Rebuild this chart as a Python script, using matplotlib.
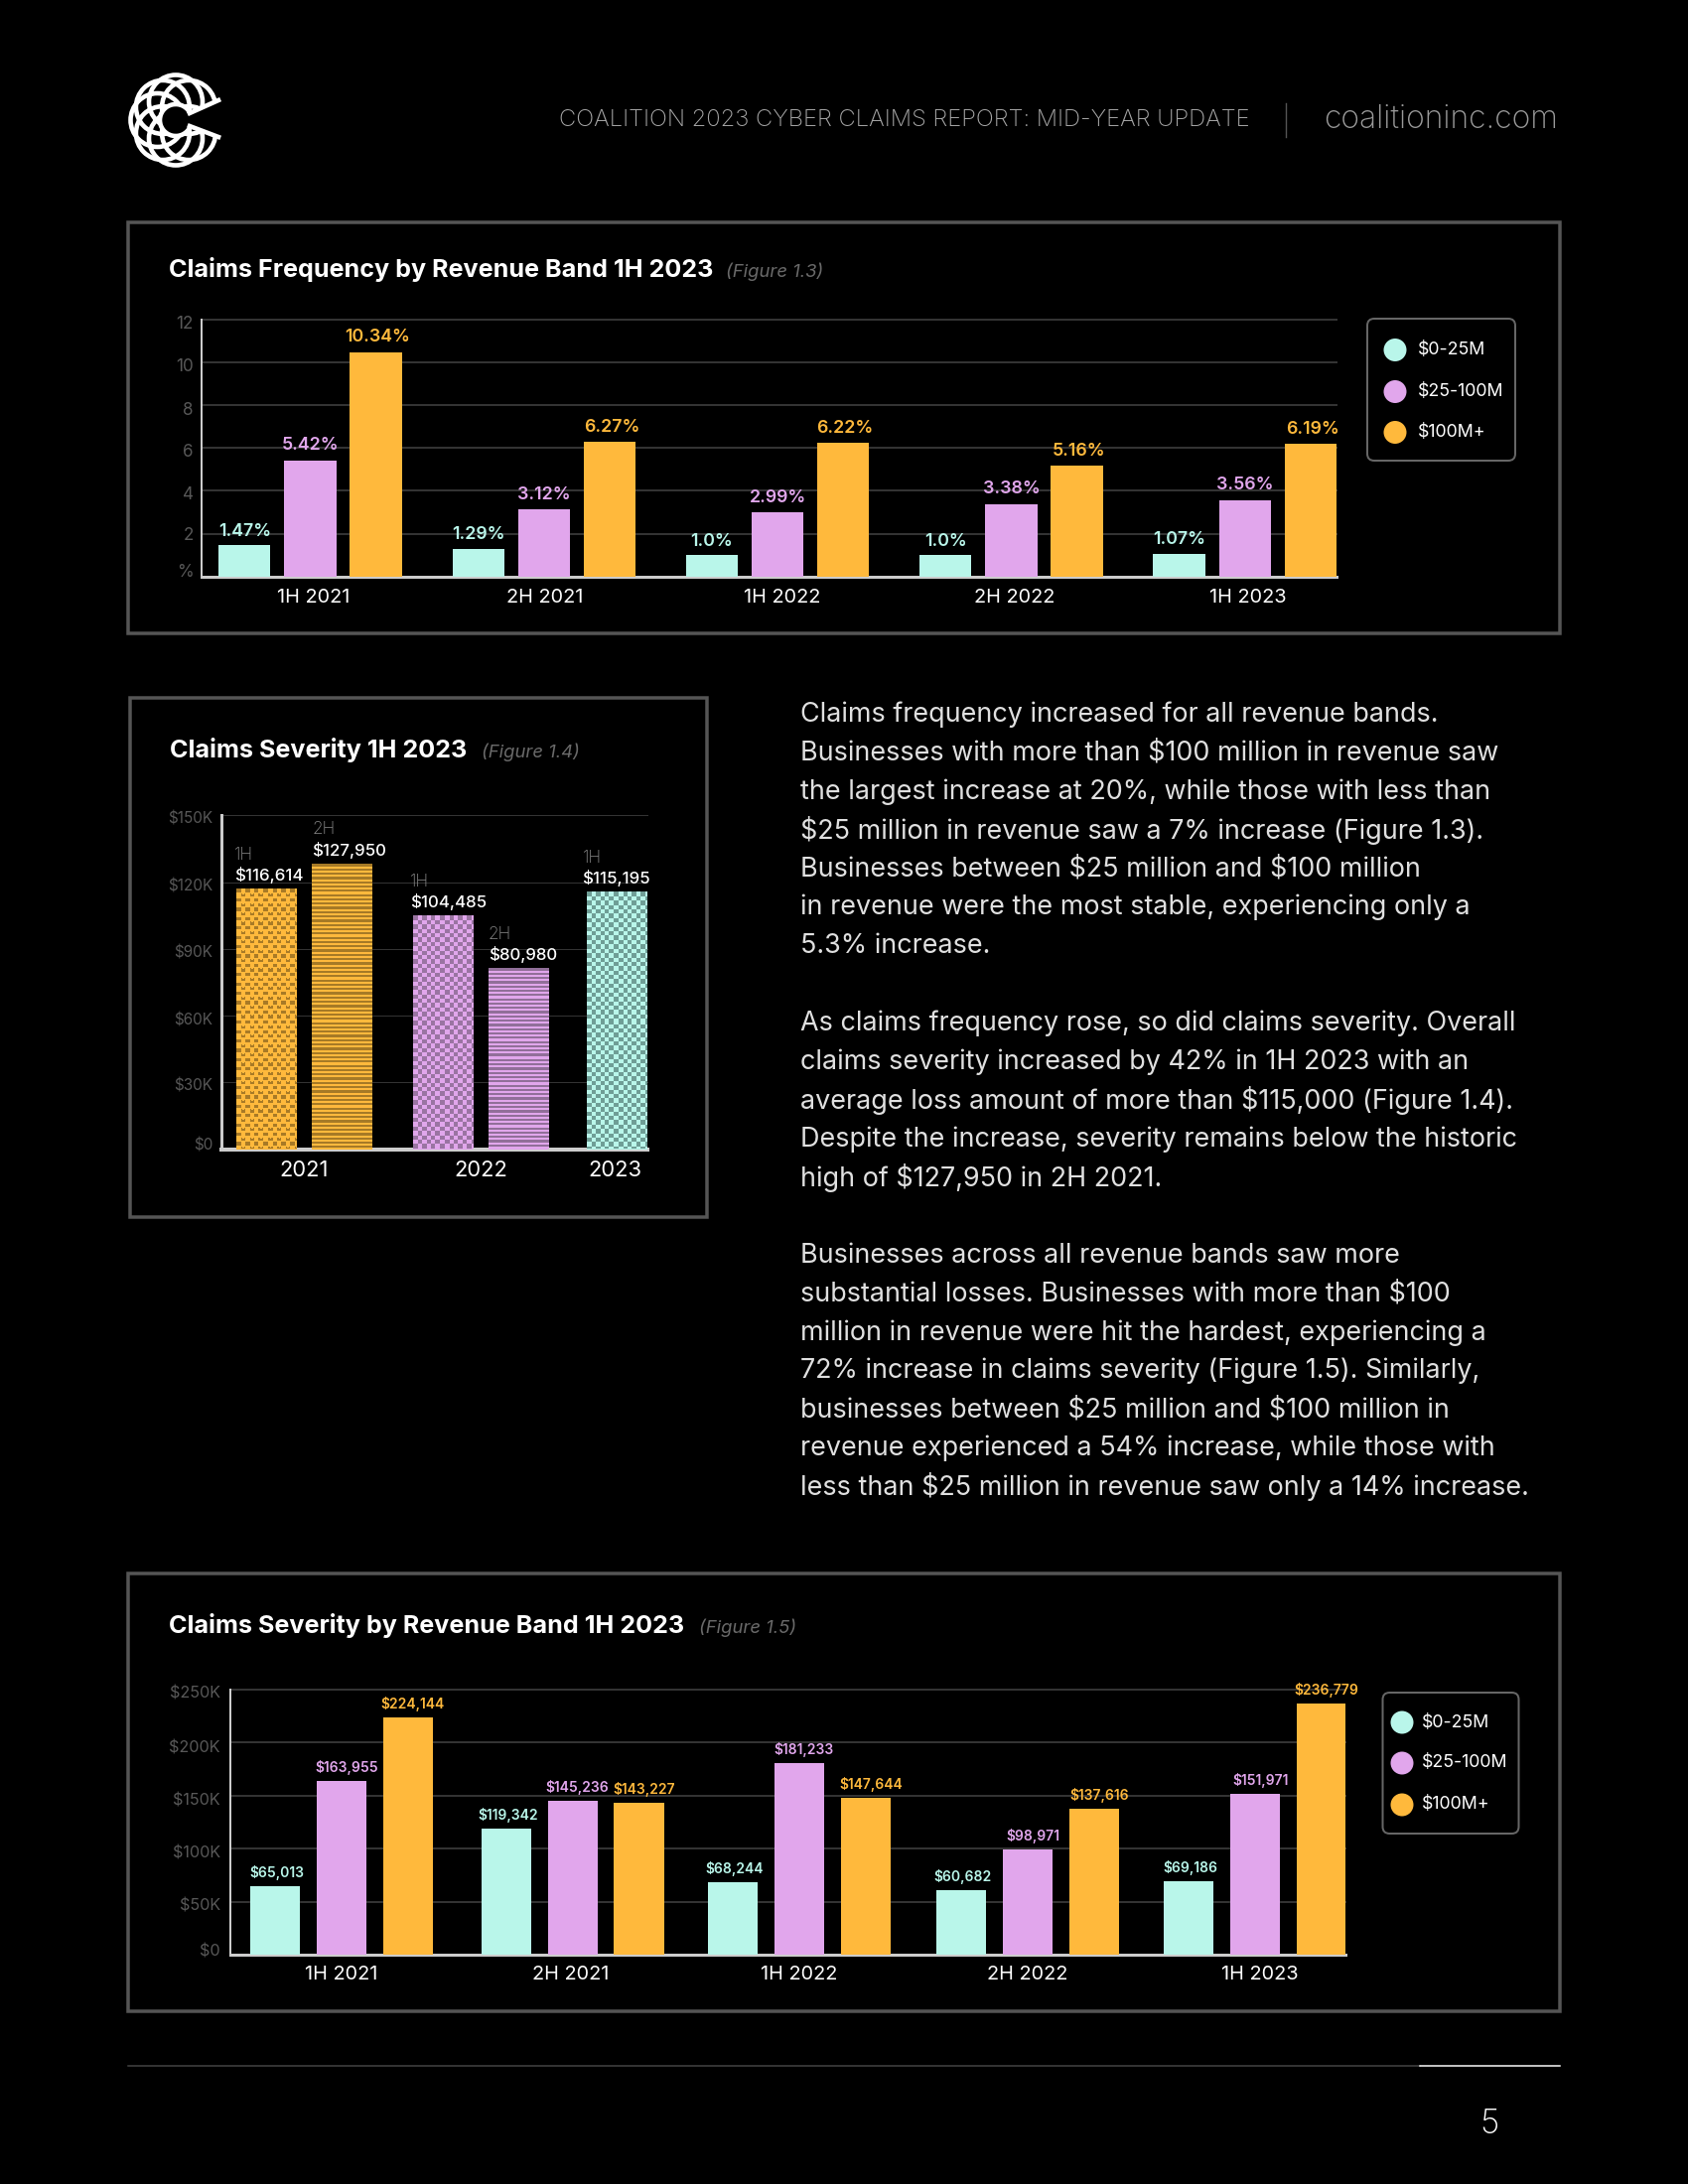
import numpy as np
import matplotlib
matplotlib.use('Agg')
import matplotlib.pyplot as plt
from matplotlib.patches import Rectangle, FancyBboxPatch, Circle, Polygon, Arc
from matplotlib.transforms import ScaledTranslation

# colours
TEAL = '#B9F6EA'
PURPLE = '#E1A6EC'
ORANGE = '#FFB93C'
FONT = 'Inter'

# fig 1.3 data
periods = ['1H 2021', '2H 2021', '1H 2022', '2H 2022', '1H 2023']
bands = ['$0-25M', '$25-100M', '$100M+']
freq_low = [1.47, 1.29, 1.0, 1.0, 1.07]
freq_mid = [5.42, 3.12, 2.99, 3.38, 3.56]
freq_high = [10.46, 6.27, 6.22, 5.16, 6.19]
freq_low_labels = ['1.47%', '1.29%', '1.0%', '1.0%', '1.07%']
freq_mid_labels = ['5.42%', '3.12%', '2.99%', '3.38%', '3.56%']
freq_high_labels = ['10.34%', '6.27%', '6.22%', '5.16%', '6.19%']
freq_ticks = [0, 2, 4, 6, 8, 10, 12]
freq_ticklabels = ['%', '2', '4', '6', '8', '10', '12']

# fig 1.4 data
sev_half = ['1H', '2H', '1H', '2H', '1H']
sev_values = [116614, 127950, 104485, 80980, 115195]
sev_years = ['2021', '2022', '2023']
sev_ticks = [0, 30000, 60000, 90000, 120000, 150000]
sev_ticklabels = ['$0', '$30K', '$60K', '$90K', '$120K', '$150K']

# fig 1.5 data
band_low = [65013, 119342, 68244, 60682, 69186]
band_mid = [163955, 145236, 181233, 98971, 151971]
band_high = [224144, 143227, 147644, 137616, 236779]
band_ticks = [0, 50000, 100000, 150000, 200000, 250000]
band_ticklabels = ['$0', '$50K', '$100K', '$150K', '$200K', '$250K']

# body copy
para1 = ['Claims frequency increased for all revenue bands.',
         'Businesses with more than $100 million in revenue saw',
         'the largest increase at 20%, while those with less than',
         '$25 million in revenue saw a 7% increase (Figure 1.3).',
         'Businesses between $25 million and $100 million',
         'in revenue were the most stable, experiencing only a',
         '5.3% increase.']
para2 = ['As claims frequency rose, so did claims severity. Overall',
         'claims severity increased by 42% in 1H 2023 with an',
         'average loss amount of more than $115,000 (Figure 1.4).',
         'Despite the increase, severity remains below the historic',
         'high of $127,950 in 2H 2021.']
para3 = ['Businesses across all revenue bands saw more',
         'substantial losses. Businesses with more than $100',
         'million in revenue were hit the hardest, experiencing a',
         '72% increase in claims severity (Figure 1.5). Similarly,',
         'businesses between $25 million and $100 million in',
         'revenue experienced a 54% increase, while those with',
         'less than $25 million in revenue saw only a 14% increase.']

plt.rcParams['font.family'] = [FONT, 'DejaVu Sans']
PX = 0.72  # points per pixel at dpi 100

fig = plt.figure(figsize=(17, 22), dpi=100, facecolor='black')

# page layer in pixel coordinates
page = fig.add_axes([0, 0, 1, 1], zorder=0)
page.set_xlim(0, 1700)
page.set_ylim(2200, 0)
page.axis('off')


def add_chart(left, top, right, bottom):
    '''axes placed by pixel box of the plot area'''
    ax = fig.add_axes([left / 1700, 1 - bottom / 2200, (right - left) / 1700,
                       (bottom - top) / 2200], zorder=2)
    ax.set_facecolor('none')
    for side in ['top', 'right']:
        ax.spines[side].set_visible(False)
    return ax


def shift_labels(labels, dxs, dys):
    '''small pixel nudges, + is right and down'''
    for lab, dx, dy in zip(labels, dxs, dys):
        lab.set_transform(lab.get_transform() +
                          ScaledTranslation(dx * PX / 72, -dy * PX / 72, fig.dpi_scale_trans))


def style_axes(ax, ticks, ticklabels, nudges, size, axis_w, base_w, grid_w, pad):
    ax.set_yticks(ticks)
    ax.set_yticklabels(ticklabels, color='#585858', fontsize=size)
    ax.tick_params(axis='both', length=0)
    ax.tick_params(axis='y', pad=pad)
    ax.set_axisbelow(True)
    ax.yaxis.grid(True, color='#333333', lw=grid_w * PX)
    for line in ax.get_ygridlines():
        line.set_clip_on(False)
    ax.spines['left'].set_color('#cccccc')
    ax.spines['left'].set_linewidth(axis_w * PX)
    ax.spines['bottom'].set_color('#cccccc')
    ax.spines['bottom'].set_linewidth(base_w * PX)
    shift_labels(ax.get_yticklabels(), [0] * len(nudges), nudges)


def value_labels(ax, xs, heights, labels, color, size, gap, dx=0):
    for x, h, lab in zip(xs, heights, labels):
        ax.annotate(lab, xy=(x, h), xytext=(dx * PX, gap * PX), textcoords='offset points',
                    ha='center', va='center', color=color, fontsize=size,
                    fontweight='semibold', annotation_clip=False)


def panel(x0, y0, x1, y1):
    page.add_patch(Rectangle((x0, y0), x1 - x0, y1 - y0, fc='none', ec='#555555', lw=3.5 * PX))


def title(x, y, text, fig_x, fig_text, size=18.1):
    page.text(x, y, text, color='white', fontsize=size, fontweight='bold', va='center')
    page.text(fig_x, y + 2, fig_text, color='#6a6a6a', fontsize=13.3, style='italic', va='center')


def legend(x0, y0, x1, y1, dot_x, text_x, dot_ys):
    page.add_patch(FancyBboxPatch((x0 + 6, y0 + 6), x1 - x0 - 12, y1 - y0 - 12,
                                  boxstyle='round,pad=6,rounding_size=7',
                                  fc='none', ec='#666666', lw=2 * PX))
    for y, col, name in zip(dot_ys, [TEAL, PURPLE, ORANGE], bands):
        page.add_patch(Circle((dot_x, y), 11.5, fc=col, ec='none'))
        page.text(text_x, y, name, color='white', fontsize=12.8, va='center')


def pattern_tile(kind, w, h):
    '''boolean mask for the print texture of one bar, pixel sized'''
    yy, xx = np.mgrid[0:h, 0:w]
    if kind == 'stripe':
        return (np.floor(yy / 2.15).astype(int) % 2) == 0
    if kind == 'check':
        return (np.floor(xx / 4.4).astype(int) + np.floor(yy / 4.4).astype(int)) % 2 == 0
    # weave used on the orange 1H bar
    cx_ = np.floor(xx / 4.4).astype(int)
    cy_ = np.floor(yy / 4.7).astype(int)
    mask = ((cx_ + cy_) % 2 == 0) & ((yy % 4.7) < 3.2)
    notch = (cy_ % 2 == 1) & ((xx % 4.4) > 1.4) & ((xx % 4.4) < 3) & ((yy % 4.7) < 1)
    return mask & ~notch


def add_pattern(ax, rect, kind, base, dark):
    ext = rect.get_window_extent()
    w, h = int(round(ext.width)), int(round(ext.height))
    mask = pattern_tile(kind, w, h)
    img = np.zeros((h, w, 3))
    img[:] = matplotlib.colors.to_rgb(base)
    img[mask] = matplotlib.colors.to_rgb(dark)
    x0, x1 = rect.get_x(), rect.get_x() + rect.get_width()
    xlim, ylim = ax.get_xlim(), ax.get_ylim()
    ax.imshow(img, extent=(x0, x1, 0, rect.get_height()), aspect='auto', origin='upper',
              interpolation='nearest', zorder=3)
    ax.set_xlim(xlim)
    ax.set_ylim(ylim)


# header
page.text(563, 121, 'COALITION 2023 CYBER CLAIMS REPORT: MID-YEAR UPDATE', color='#a8a8a8',
          fontsize=17.1, va='center', fontweight='light')
page.plot([1295, 1295], [104, 138], color='#555555', lw=1)
page.text(1333, 120, 'coalitioninc.com', color='#9a9a9a', fontsize=22.9, va='center', fontweight='light')

# logo
cx, cy = 177, 121
keep = Polygon([(cx, cy), (cx + 80, cy - 37), (cx + 80, cy - 90), (cx - 80, cy - 90),
                (cx - 80, cy + 90), (cx + 80, cy + 90), (cx + 80, cy + 30)],
               closed=True, transform=page.transData, fc='none', ec='none')
page.add_patch(keep)
for ang in [45, 90, 135, 180, 225, 270, 315]:
    a = np.deg2rad(ang)
    ring = Circle((cx + 18.5 * np.cos(a), cy - 18.5 * np.sin(a)), 27, fc='none', ec='white', lw=4.6 * PX)
    page.add_patch(ring)
    ring.set_clip_path(keep)
page.add_patch(Circle((cx, cy), 15, fc='black', ec='none', zorder=3))
page.add_patch(Arc((cx, cy), 32, 32, theta1=25, theta2=335, color='white', lw=4.6 * PX, zorder=4))
page.plot([cx + 14, cx + 43], [cy - 7, cy - 20], color='white', lw=4.6 * PX, zorder=4)
page.plot([cx + 14, cx + 43], [cy + 6, cy + 17], color='white', lw=4.6 * PX, zorder=4)

# fig 1.3
panel(129, 224, 1571, 638)
title(170, 271.5, 'Claims Frequency by Revenue Band 1H 2023', 731, '(Figure 1.3)')
ax1 = add_chart(203, 321.7, 1345.5, 580.8)
x1 = np.arange(len(periods))
ax1.set_xlim(-0.465, 4.39)
ax1.set_ylim(0, 12)
ax1.bar(x1 - 0.281, freq_low, 0.222, color=TEAL, zorder=3)
ax1.bar(x1, freq_mid, 0.222, color=PURPLE, zorder=3)
ax1.bar(x1 + 0.281, freq_high, 0.222, color=ORANGE, zorder=3)
value_labels(ax1, x1 - 0.281, freq_low, freq_low_labels, TEAL, 12.8, 14)
value_labels(ax1, x1, freq_mid, freq_mid_labels, PURPLE, 12.8, 15)
value_labels(ax1, x1 + 0.281, freq_high, freq_high_labels, ORANGE, 12.8, 15, 2)
ax1.set_xticks(x1)
ax1.set_xticklabels(periods, color='white', fontsize=14.3)
style_axes(ax1, freq_ticks, freq_ticklabels, [-6, 0, 2, 2, 3, 3, 3], 12.3, 2, 3, 2, 6)
ax1.tick_params(axis='x', pad=9)
shift_labels(ax1.get_xticklabels(), [3, 1, 5, 3, 3], [0] * 5)
legend(1377, 321, 1526, 464, 1405, 1428, [352.5, 394.5, 435.5])

# fig 1.4
panel(131.5, 703, 712, 1226)
title(171.5, 755.5, 'Claims Severity 1H 2023', 485, '(Figure 1.4)')
ax2 = add_chart(222.6, 821.4, 652, 1157.5)
slots = np.array([0, 1, 2.335, 3.335, 4.645])
ax2.set_xlim(-0.6, 4.645 + 0.398)
ax2.set_ylim(0, 150000)
bars2 = ax2.bar(slots, sev_values, 0.795, color=[ORANGE, ORANGE, PURPLE, PURPLE, TEAL], zorder=3)
style_axes(ax2, sev_ticks, sev_ticklabels, [-5, 2, 3, 3, 3, 2], 11, 3, 4, 1, 6)
ax2.set_xticks([(slots[0] + slots[1]) / 2, (slots[2] + slots[3]) / 2, slots[4]])
ax2.set_xticklabels(sev_years, color='white', fontsize=15.8)
ax2.tick_params(axis='x', pad=8)
shift_labels(ax2.get_xticklabels(), [0, 0, -2], [0, 0, 0])
fig.canvas.draw()
kinds = ['weave', 'stripe', 'check', 'stripe', 'check']
darks = ['#A87A26', '#A67A26', '#9A74A2', '#916F99', '#6F9E96']
bases = [ORANGE, ORANGE, PURPLE, PURPLE, TEAL]
for rect, kind, base, dark in zip(bars2, kinds, bases, darks):
    add_pattern(ax2, rect, kind, base, dark)
for rect, half, val, dx in zip(bars2, sev_half, sev_values, [-2, 0, -2.5, 0, -5]):
    ax2.annotate(half, xy=(rect.get_x(), val), xytext=(dx * PX, 35 * PX), textcoords='offset points',
                 color='#8a8a8a', fontsize=12.4, va='center', fontweight='light', annotation_clip=False)
    ax2.annotate(f'${val:,}', xy=(rect.get_x(), val), xytext=(dx * PX, 14.5 * PX),
                 textcoords='offset points', color='white', fontsize=12.2, va='center',
                 fontweight='medium', annotation_clip=False, zorder=5)

# body text
for lines, ys in [(para1, 719.5 + 38.9 * np.arange(7)), (para2, 1030.5 + 39 * np.arange(5)),
                  (para3, 1264.5 + 38.9 * np.arange(7))]:
    for line, y in zip(lines, ys):
        page.text(806, y, line, color='#e0e0e0', fontsize=19.4, va='center', parse_math=False)

# fig 1.5
panel(129, 1585, 1571, 2026)
title(170, 1637.5, 'Claims Severity by Revenue Band 1H 2023', 704, '(Figure 1.5)')
ax3 = add_chart(231.7, 1702, 1355, 1969.3)
x3 = np.array([0, 1.012, 2.004, 3.004, 4.0])
ax3.set_xlim(-0.487, 4.395)
ax3.set_ylim(0, 250000)
ax3.bar(x3 - 0.291, band_low, 0.218, color=TEAL, zorder=3)
ax3.bar(x3, band_mid, 0.218, color=PURPLE, zorder=3)
ax3.bar(x3 + 0.291, band_high, 0.218, color=ORANGE, zorder=3)
value_labels(ax3, x3 - 0.291, band_low, [f'${v:,}' for v in band_low], TEAL, 10, 13.5, 2)
value_labels(ax3, x3, band_mid, [f'${v:,}' for v in band_mid], PURPLE, 10, 13.5, 5)
value_labels(ax3, x3 + 0.291, band_high, [f'${v:,}' for v in band_high], ORANGE, 10, 13.5, 5)
ax3.set_xticks(x3)
ax3.set_xticklabels(periods, color='white', fontsize=14.3)
style_axes(ax3, band_ticks, band_ticklabels, [-5, 3, 3, 4, 4, 3], 11.7, 2, 3, 2, 7)
ax3.tick_params(axis='x', pad=8)
shift_labels(ax3.get_xticklabels(), [0, -2, 0, 0, 5], [0] * 5)
legend(1392.5, 1705, 1529.5, 1847, 1412, 1432, [1735, 1776, 1818])

# footer
page.plot([129, 1430], [2081, 2081], color='#444444', lw=1.5 * PX)
page.plot([1430, 1571], [2081, 2081], color='white', lw=1.5 * PX)
page.text(1500, 2140, '5', color='white', fontsize=24, ha='center', va='center', fontweight='light')

fig.savefig('out.png', dpi=100, facecolor='black')
